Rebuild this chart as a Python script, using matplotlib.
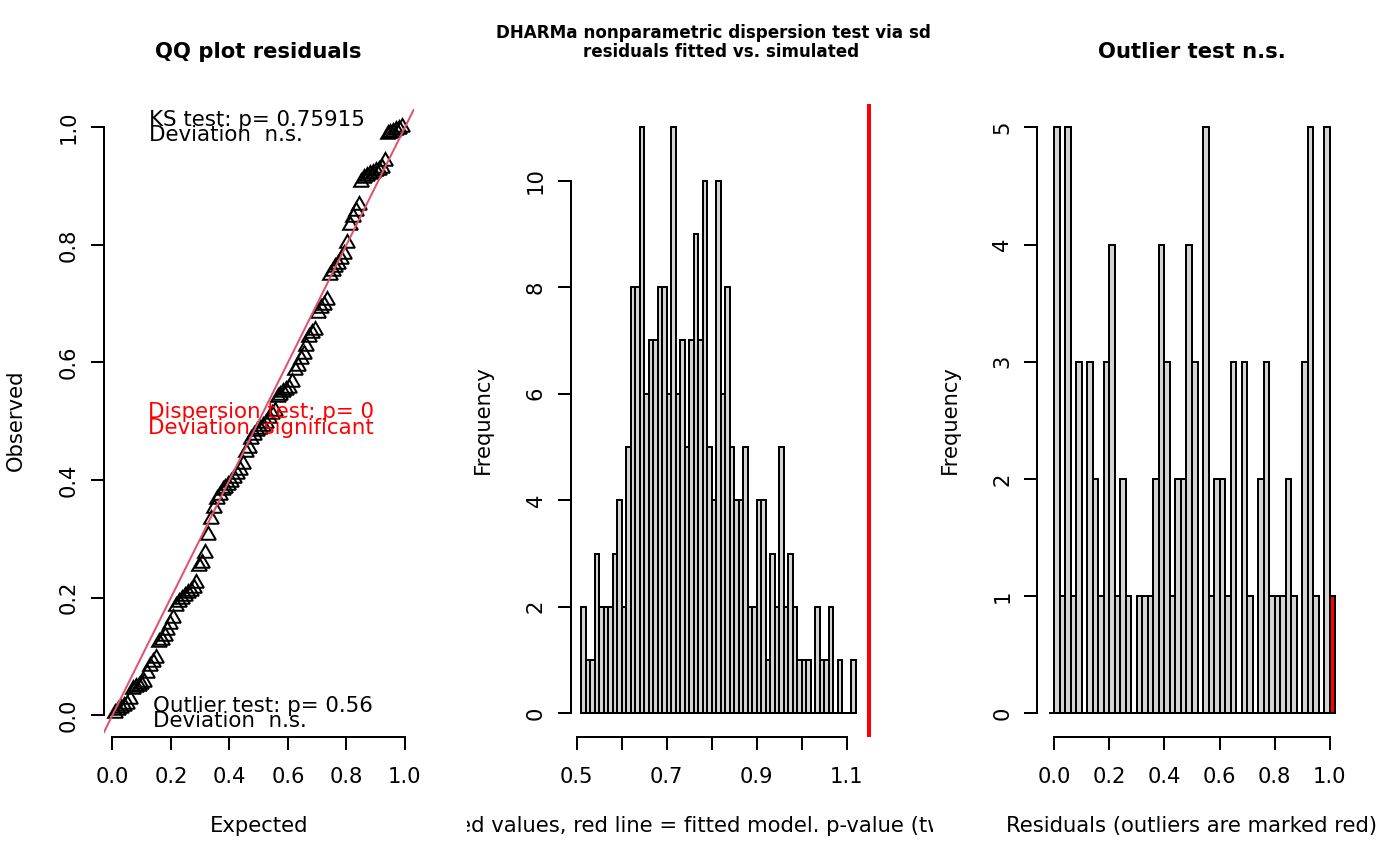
import numpy as np
import matplotlib
matplotlib.use("Agg")
import matplotlib.pyplot as plt
from matplotlib.transforms import Bbox, TransformedBbox

# ---- data ----
# sorted scaled residuals (n = 100), QQ panel
observed = [
    0.003, 0.008, 0.012, 0.015, 0.019, 0.028, 0.044, 0.047, 0.050, 0.053,
    0.057, 0.072, 0.083, 0.090, 0.097, 0.124, 0.128, 0.134, 0.145, 0.155,
    0.165, 0.186, 0.193, 0.198, 0.203, 0.207, 0.212, 0.217, 0.224, 0.253,
    0.258, 0.276, 0.306, 0.333, 0.352, 0.368, 0.374, 0.383, 0.387, 0.392,
    0.397, 0.404, 0.410, 0.417, 0.428, 0.447, 0.455, 0.470, 0.477, 0.483,
    0.487, 0.492, 0.497, 0.505, 0.512, 0.518, 0.542, 0.545, 0.549, 0.553,
    0.557, 0.566, 0.587, 0.594, 0.606, 0.614, 0.628, 0.643, 0.650, 0.656,
    0.684, 0.692, 0.698, 0.706, 0.748, 0.755, 0.762, 0.768, 0.776, 0.785,
    0.803, 0.834, 0.847, 0.858, 0.868, 0.907, 0.914, 0.918, 0.921, 0.923,
    0.926, 0.928, 0.930, 0.942, 0.988, 0.990, 0.992, 0.995, 0.997, 1.000,
]

# dispersion test: histogram of simulated sd ratios (nSim = 250), bins of 0.01 from 0.51
disp_start = 0.51
disp_width = 0.01
disp_counts = [
    2, 1, 1, 3, 2, 2, 2, 3, 4, 2,
    5, 8, 8, 11, 6, 7, 7, 8, 8, 6,
    11, 6, 7, 5, 7, 9, 7, 10, 5, 4,
    10, 6, 8, 5, 4, 4, 5, 2, 2, 4,
    4, 1, 3, 2, 5, 2, 3, 2, 1, 1,
    1, 0, 2, 1, 1, 2, 0, 1, 0, 0, 1,
]
disp_min_sim = 0.512
disp_observed = 1.149

# outlier test: histogram of residuals, bins of 0.02 from -0.02 (first and last are outlier bins)
res_start = -0.02
res_width = 0.02
res_counts = [
    0,
    5, 1, 5, 1, 3, 0, 3, 2, 1, 3,
    4, 1, 2, 1, 0, 1, 1, 1, 2, 4,
    3, 1, 2, 2, 4, 3, 0, 5, 1, 2,
    2, 1, 3, 0, 3, 1, 0, 2, 3, 1,
    1, 1, 2, 1, 0, 3, 5, 1, 0, 5,
    1,
]
res_outlier_bins = [0, 51]

ks_text = ["KS test: p= 0.75915", "Deviation  n.s."]
disp_text = ["Dispersion test: p= 0", "Deviation  significant"]
out_text = ["Outlier test: p= 0.56", "Deviation  n.s."]

W, H = 1400, 866
DPI = 192
plt.rcParams["font.family"] = ["DejaVu Sans"]
FS = 7.92

fig = plt.figure(figsize=(W / DPI, H / DPI), dpi=DPI)


def fx(x):
    return x / W


def fy(y):
    return 1 - y / H


def make_axes(left):
    # R plot region: mar = c(5,4,4,2)+0.1 lines, one line = 25.34 px here
    top, bottom, width = 103.9, 736.8, 309.6
    return fig.add_axes([fx(left), fy(bottom), width / W, (bottom - top) / H])


def r_style(ax, xt, yt, xlabels=None):
    for s in ["top", "right"]:
        ax.spines[s].set_visible(False)
    for s in ["left", "bottom"]:
        ax.spines[s].set_linewidth(0.75)
    ax.spines["bottom"].set_bounds(xt[0], xt[-1])
    ax.spines["left"].set_bounds(yt[0], yt[-1])
    ax.set_xticks(xt)
    ax.set_yticks(yt)
    if xlabels is not None:
        ax.set_xticklabels(xlabels)
    ax.tick_params(axis="both", length=4.75, width=0.75, labelsize=FS)
    ax.tick_params(axis="x", pad=6.6)
    ax.tick_params(axis="y", pad=4.6)
    for lab in ax.get_yticklabels():
        lab.set_rotation(90)
        lab.set_va("center")


def pad4(a, b):
    d = (b - a) * 0.04
    return a - d, b + d


# ---------- panel 1: QQ plot ----------
ax1 = make_axes(103.9)
n = len(observed)
expected = np.arange(1, n + 1) / (n + 1)
ax1.plot(expected, observed, linestyle="none", marker=(3, 0, 0), markersize=6.4,
         markerfacecolor="none", markeredgecolor="black", markeredgewidth=0.75)
ax1.axline((0, 0), (1, 1), color="#DF536B", lw=0.75)
ax1.set_xlim(*pad4(expected[0], expected[-1]))
ax1.set_ylim(*pad4(min(observed), max(observed)))
ticks01 = [0.0, 0.2, 0.4, 0.6, 0.8, 1.0]
r_style(ax1, ticks01, ticks01)
ax1.set_xticklabels([f"{t:.1f}" for t in ticks01])
ax1.set_yticklabels([f"{t:.1f}" for t in ticks01], rotation=90, va="center")

fig.text(fx(149), fy(120), ks_text[0], fontsize=8.0, va="center", ha="left")
fig.text(fx(149), fy(135), ks_text[1], fontsize=8.0, va="center", ha="left")
fig.text(fx(148), fy(412), disp_text[0], fontsize=8.0, va="center", ha="left", color="red")
fig.text(fx(148), fy(428), disp_text[1], fontsize=8.0, va="center", ha="left", color="red")
fig.text(fx(153), fy(706), out_text[0], fontsize=8.0, va="center", ha="left")
fig.text(fx(153), fy(721), out_text[1], fontsize=8.0, va="center", ha="left")

fig.text(fx(258.7), fy(52), "QQ plot residuals", fontsize=FS, fontweight="bold",
         ha="center", va="center")
fig.text(fx(258.7), fy(826), "Expected", fontsize=FS, ha="center", va="center")
fig.text(fx(16), fy(420), "Observed", fontsize=FS, ha="center", va="center", rotation=90)

# ---------- panel 2: dispersion test ----------
ax2 = make_axes(570.5)
d_left = disp_start + disp_width * np.arange(len(disp_counts))
ax2.bar(d_left, disp_counts, width=disp_width, align="edge", color="lightgrey",
        edgecolor="black", linewidth=0.75)
ax2.axvline(disp_observed, color="red", lw=1.5)
ax2.set_xlim(*pad4(disp_min_sim, disp_observed))
ax2.set_ylim(*pad4(0, max(disp_counts)))
xt2 = [0.5, 0.6, 0.7, 0.8, 0.9, 1.0, 1.1]
r_style(ax2, xt2, [0, 2, 4, 6, 8, 10],
        ["0.5", "", "0.7", "", "0.9", "", "1.1"])

fig.text(fx(713), fy(33), "DHARMa nonparametric dispersion test via sd",
         fontsize=6.3, fontweight="bold", ha="center", va="center")
fig.text(fx(721), fy(52), "residuals fitted vs. simulated",
         fontsize=6.3, fontweight="bold", ha="center", va="center")
xl2 = fig.text(fx(725.3), fy(826),
               "Simulated values, red line = fitted model. p-value (two.sided) = 0",
               fontsize=FS, ha="center", va="center")
clip = TransformedBbox(Bbox.from_extents(fx(466.7), 0, fx(933.3), 1), fig.transFigure)
xl2.set_clip_box(clip)
xl2.set_clip_on(True)
fig.text(fx(483), fy(420), "Frequency", fontsize=FS, ha="center", va="center", rotation=90)

# ---------- panel 3: outlier test ----------
ax3 = make_axes(1037.2)
r_left = res_start + res_width * np.arange(len(res_counts))
colors = ["red" if i in res_outlier_bins else "lightgrey" for i in range(len(res_counts))]
ax3.bar(r_left, res_counts, width=res_width, align="edge", color=colors,
        edgecolor="black", linewidth=0.75)
ax3.set_xlim(*pad4(res_start, res_start + res_width * len(res_counts)))
ax3.set_ylim(*pad4(0, max(res_counts)))
r_style(ax3, ticks01, [0, 1, 2, 3, 4, 5], [f"{t:.1f}" for t in ticks01])

fig.text(fx(1192), fy(52), "Outlier test n.s.", fontsize=FS, fontweight="bold",
         ha="center", va="center")
fig.text(fx(1192), fy(826), "Residuals (outliers are marked red)", fontsize=FS,
         ha="center", va="center")
fig.text(fx(950), fy(420), "Frequency", fontsize=FS, ha="center", va="center", rotation=90)

fig.savefig("out.png", dpi=DPI)
